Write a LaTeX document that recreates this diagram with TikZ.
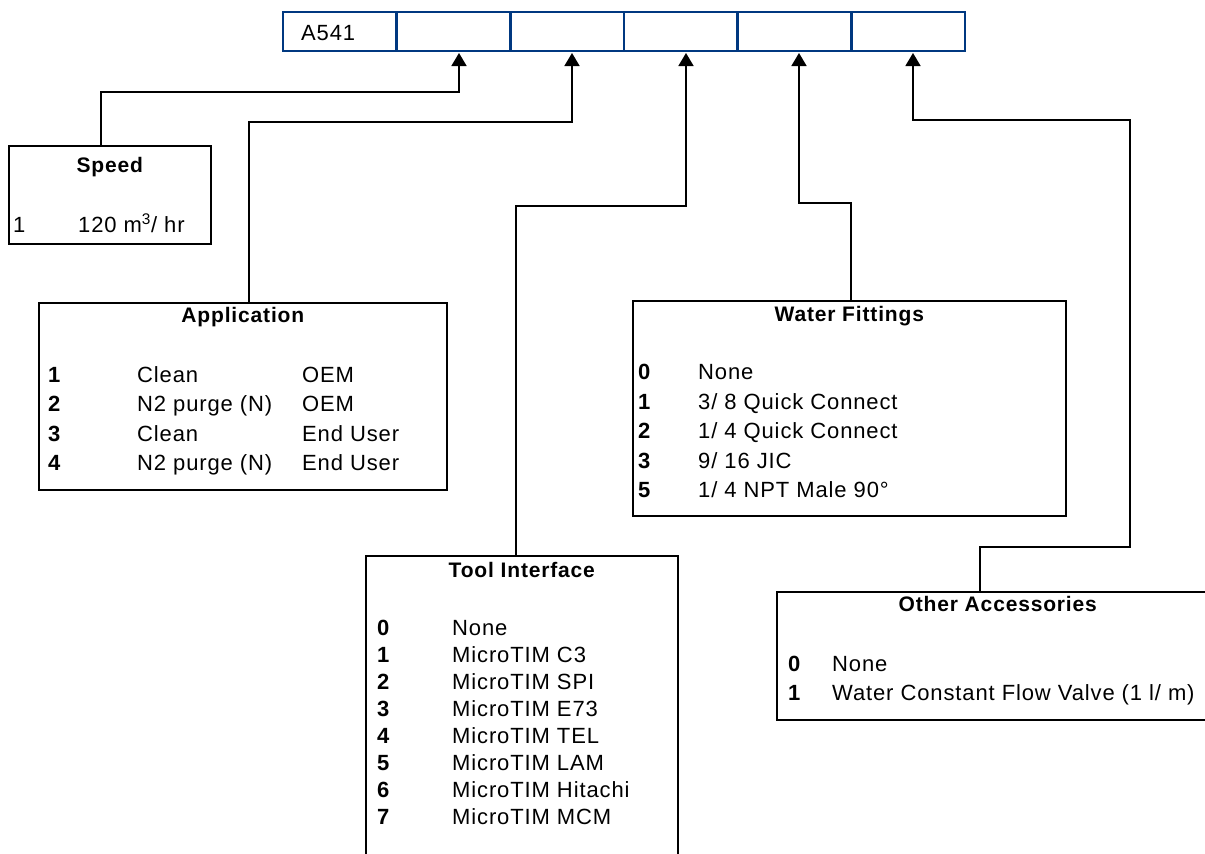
\documentclass[tikz,border=0pt]{standalone}
\usepackage{fontspec}
\setmainfont[LetterSpace=4]{Liberation Sans}
\usetikzlibrary{arrows.meta}
\definecolor{barblue}{RGB}{0,56,128}

\tikzset{
  cell/.style={draw=barblue, line width=2.5pt, minimum width=113.67pt, minimum height=39pt},
  optbox/.style={draw, line width=1.6pt, anchor=north west},
  head/.style={font=\fontsize{21}{25}\selectfont\bfseries, anchor=base},
  num/.style={font=\fontsize{22}{26}\selectfont\bfseries, anchor=base west},
  txt/.style={anchor=base west},
  feed/.style={line width=1.6pt, -{Triangle[length=13pt,width=15pt]}},
}

\begin{document}
\begin{tikzpicture}[x=1pt, y=-1pt, inner sep=0pt, font=\fontsize{22}{26}\selectfont]
\useasboundingbox (0,0) rectangle (1205,854);
\clip (0,0) rectangle (1205,854);

% code bar
\foreach \i in {1,...,6}
  \node[cell] (c\i) at ({283+(\i-0.5)*113.67},31.5) {};
\node[txt] (code) at (301,40) {A541};

\foreach \i/\x in {2/459,3/572,4/686,5/799,6/913}
  \coordinate (t\i) at (\x,53);

% option boxes
\node[optbox, minimum width=202pt, minimum height=98pt] (speed) at (8,145) {};
\node[optbox, minimum width=408pt, minimum height=187pt] (appl) at (38,302) {};
\node[optbox, minimum width=433pt, minimum height=215pt] (water) at (632,300) {};
\node[optbox, minimum width=312pt, minimum height=330pt] (tool) at (365,555) {};
\node[optbox, minimum width=442pt, minimum height=128pt] (other) at (776,591) {};

\node[head] (speedh) at (speed.north |- 0,172) {Speed};
\node[head] (applh) at (appl.north |- 0,322) {Application};
\node[head] (waterh) at (water.north |- 0,321) {Water Fittings};
\node[head] (toolh) at (tool.north |- 0,577) {Tool Interface};
\node[head] (otherh) at (other.north |- 0,611) {Other Accessories};

% speed
\node[txt] (speed1) at (13,232) {1};
\node[txt] (speed1t) at (78,232) {120 m\textsuperscript{3}/ hr};

% application
\foreach \k/\a/\b [count=\j] in {1/Clean/OEM, 2/N2 purge (N)/OEM, 3/Clean/End User, 4/N2 purge (N)/End User} {
  \node[num] (appl\k) at (48,{352.5+29.5*\j}) {\k};
  \node[txt] (appl\k a) at (137,{352.5+29.5*\j}) {\a};
  \node[txt] (appl\k b) at (302,{352.5+29.5*\j}) {\b};
}

% water fittings
\foreach \k [count=\j] in {0,1,2,3,5}
  \node[num] (water\k) at (638,{350+29.5*\j}) {\k};
\node[txt] (water0t) at (698,379.5) {None};
\node[txt] (water1t) at (698,409) {3/ 8 Quick Connect};
\node[txt] (water2t) at (698,438.5) {1/ 4 Quick Connect};
\node[txt] (water3t) at (698,468) {9/ 16 JIC};
\node[txt] (water5t) at (698,497.5) {1/ 4 NPT Male 90°};

% tool interface
\foreach \k/\a in {0/None, 1/MicroTIM C3, 2/MicroTIM SPI, 3/MicroTIM E73, 4/MicroTIM TEL, 5/MicroTIM LAM, 6/MicroTIM Hitachi, 7/MicroTIM MCM} {
  \node[num] (tool\k) at (377,{635+27*\k}) {\k};
  \node[txt] (tool\k t) at (452,{635+27*\k}) {\a};
}

% other accessories
\node[num] (other0) at (788,671) {0};
\node[txt] (other0t) at (832,671) {None};
\node[num] (other1) at (788,700) {1};
\node[txt] (other1t) at (832,700) {Water Constant Flow Valve (1 l/ m)};

% connectors
\coordinate (speedin) at (101,145);
\coordinate (applin) at (249,302);
\coordinate (toolin) at (516,555);
\coordinate (waterin) at (851,300);
\coordinate (otherin) at (980,591);
\draw[feed] (speedin) -- ++(0,-53) -| (t2);
\draw[feed] (applin) -- ++(0,-180) -| (t3);
\draw[feed] (toolin) -- ++(0,-349) -| (t4);
\draw[feed] (waterin) -- ++(0,-97) -| (t5);
\draw[feed] (otherin) -- ++(0,-44) -- ++(150,0) -- ++(0,-427) -| (t6);
\end{tikzpicture}
\end{document}
